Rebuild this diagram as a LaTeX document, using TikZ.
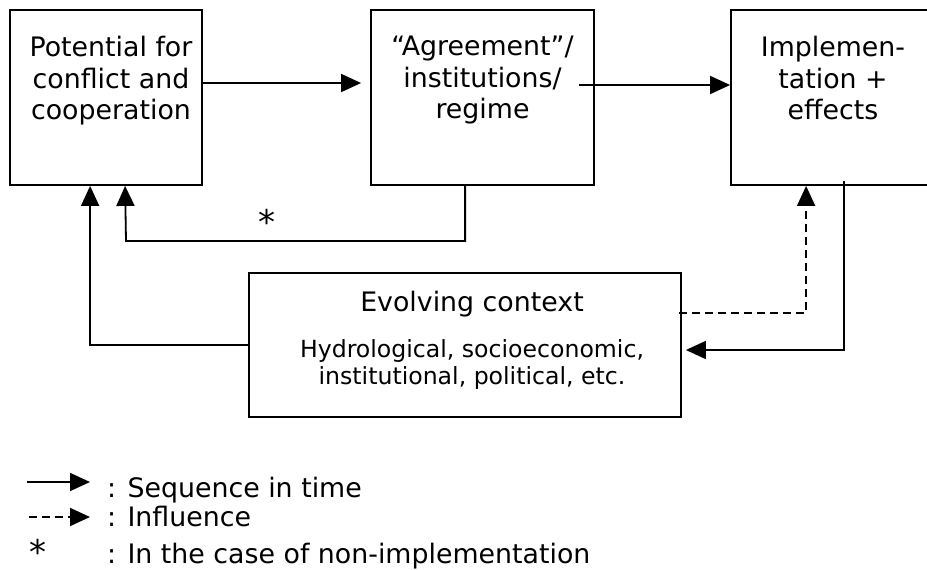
\documentclass[tikz,border=0pt]{standalone}
\usepackage{fontspec}
\setmainfont{DejaVu Sans}
\usetikzlibrary{arrows.meta,positioning}

\tikzset{
    panel/.style={draw=black, line width=1.8pt, inner sep=0pt},
    box text/.style={align=center, inner sep=0pt, font=\fontsize{26.8}{31.5}\selectfont},
    small text/.style={align=center, inner sep=0pt, font=\fontsize{23.6}{27}\selectfont},
    legend text/.style={anchor=base west, inner sep=0pt, font=\fontsize{26.8}{31.5}\selectfont},
    star text/.style={inner sep=0pt, font=\fontsize{34}{38}\selectfont},
    sequence/.style={-{Triangle[length=20pt, width=18pt]}, line width=1.8pt, black},
    influence/.style={sequence, dash pattern=on 8pt off 5pt},
}

\begin{document}
\begin{tikzpicture}[x=1pt, y=-1pt]
    \useasboundingbox (0,0) rectangle (927,570);

    % the three stages
    \node[panel, minimum width=192pt, minimum height=175pt] (potential) at (106,97.5) {};
    \node[panel, minimum width=223pt, minimum height=175pt] (agreement) at (482.5,97.5) {};
    \node[panel, minimum width=204pt, minimum height=175pt] (implementation) at (833,97.5) {};
    \node[box text, below=27pt of potential.north, xshift=5pt] (potential text) {Potential for\\conflict and\\cooperation};
    \node[box text, below=27pt of agreement.north] (agreement text) {“Agreement”/\\institutions/\\regime};
    \node[box text, below=27pt of implementation.north] (implementation text) {Implemen-\\tation +\\effects};

    % evolving context
    \node[panel, minimum width=432pt, minimum height=144pt] (context) at (465,345) {};
    \node[box text, below=19pt of context.north, xshift=7pt] (context title) {Evolving context};
    \node[small text, below=22pt of context title] (context body) {Hydrological, socioeconomic,\\institutional, political, etc.};

    % sequence in time
    \draw[sequence, shorten >=9pt] ([yshift=14.5pt]potential.east) -- ([yshift=14.5pt]potential.east -| agreement.west);
    \draw[sequence] ([xshift=-16pt, yshift=12.5pt]agreement.east) -- ([yshift=12.5pt]implementation.west);
    \draw[sequence, shorten >=4pt] ([xshift=114pt, yshift=5pt]implementation.south west) |- ([yshift=-5pt]context.east);
    \draw[sequence] (context.west) -| ([xshift=81pt]potential.south west);

    % non-implementation loop
    \coordinate (loop corner) at (126,241);
    \draw[sequence] ([xshift=95pt]agreement.south west) |- (loop corner) -- ([xshift=116pt]potential.south west);
    \node[star text] (star) at (267,222) {*};

    % influence of the context
    \draw[influence] ([xshift=-3pt, yshift=32pt]context.east) -| ([xshift=76pt]implementation.south west);

    % legend
    \coordinate (seq from) at (27,482);
    \coordinate (seq to) at (90,482);
    \coordinate (infl from) at (29,517);
    \coordinate (infl to) at (90,517);
    \draw[sequence] (seq from) -- (seq to);
    \draw[influence] (infl from) -- (infl to);
    \node[legend text] (seq key) at (107,497) {: Sequence in time};
    \node[legend text] (infl key) at (107,526) {: Influence};
    \node[star text] (star key) at (38,552) {*};
    \node[legend text] (case key) at (107,563) {: In the case of non-implementation};

\end{tikzpicture}
\end{document}
